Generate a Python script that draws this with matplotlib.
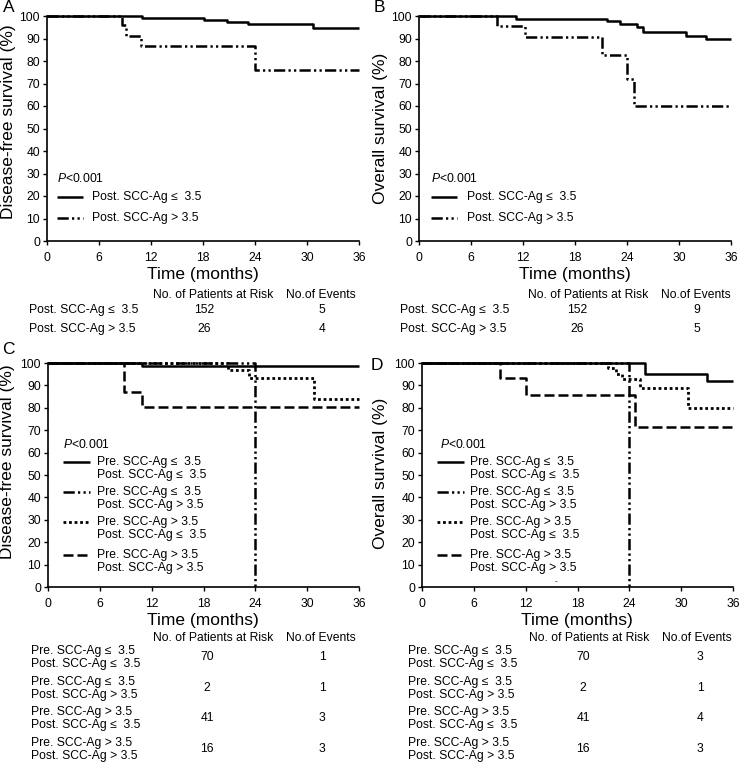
import matplotlib
matplotlib.use("Agg")
import matplotlib.pyplot as plt
from matplotlib.lines import Line2D

plt.rcParams['font.family'] = ['Liberation Sans', 'DejaVu Sans']
plt.rcParams['mathtext.fontset'] = 'custom'
plt.rcParams['mathtext.rm'] = 'Liberation Sans'
plt.rcParams['mathtext.it'] = 'Liberation Sans:italic'

# ---------------- data ----------------
x_ticks = [0, 6, 12, 18, 24, 30, 36]
y_ticks = [0, 10, 20, 30, 40, 50, 60, 70, 80, 90, 100]

# Panel A (disease-free survival)
a_low_t = [0, 11.0, 18.1, 20.8, 23.2, 30.7, 36]
a_low_s = [100, 99.3, 98.2, 97.2, 96.3, 94.6, 94.6]
a_high_t = [0, 8.7, 9.1, 10.9, 24.0, 36]
a_high_s = [100, 96.2, 91.3, 86.8, 76.0, 76.0]

# Panel B (overall survival)
b_low_t = [0, 11.2, 21.7, 23.2, 25.2, 25.8, 30.8, 33.1, 36]
b_low_s = [100, 98.6, 97.6, 96.5, 95.2, 93.1, 91.3, 89.6, 89.6]
b_high_t = [0, 9.0, 12.2, 21.1, 24.0, 24.8, 36]
b_high_s = [100, 95.5, 90.7, 82.5, 72.0, 60.0, 60.0]

# Panel C (disease-free survival, 4 groups)
c_g1_t = [0, 10.9, 36]
c_g1_s = [100, 98.6, 98.6]
c_g2_t = [0, 24.0]
c_g2_s = [100, 0]
c_g3_t = [0, 20.8, 23.3, 30.8, 36]
c_g3_s = [100, 97.0, 93.2, 83.8, 83.8]
c_g4_t = [0, 8.8, 10.9, 36]
c_g4_s = [100, 87.1, 80.4, 80.4]

# Panel D (overall survival, 4 groups)
d_g1_t = [0, 25.8, 33.0, 36]
d_g1_s = [100, 95.3, 92.0, 92.0]
d_g2_t = [0, 24.0]
d_g2_s = [100, 0]
d_g3_t = [0, 21.5, 22.4, 23.2, 25.2, 30.8, 36]
d_g3_s = [100, 97.6, 95.1, 93.0, 89.0, 80.0, 80.0]
d_g4_t = [0, 9.0, 12.0, 24.7, 36]
d_g4_s = [100, 93.5, 85.7, 71.4, 71.4]

two_groups = ["Post. SCC-Ag \u2264  3.5", "Post. SCC-Ag > 3.5"]
four_groups_pre = ["Pre. SCC-Ag \u2264  3.5", "Pre. SCC-Ag \u2264  3.5",
                   "Pre. SCC-Ag > 3.5", "Pre. SCC-Ag > 3.5"]
four_groups_post = ["Post. SCC-Ag \u2264  3.5", "Post. SCC-Ag > 3.5",
                    "Post. SCC-Ag \u2264  3.5", "Post. SCC-Ag > 3.5"]

a_risk = [152, 26]; a_events = [5, 4]
b_risk = [152, 26]; b_events = [9, 5]
c_risk = [70, 2, 41, 16]; c_events = [1, 1, 3, 3]
d_risk = [70, 2, 41, 16]; d_events = [3, 1, 4, 3]

# ---------------- styles ----------------
W, H = 740, 762
fig = plt.figure(figsize=(W / 100, H / 100), dpi=100)

LW = 1.8
STY_SOLID = dict(color='black', lw=LW, linestyle='-')
STY_DDOT = dict(color='black', lw=LW, linestyle=(0, (4.5, 1.3, 0.9, 1.3, 0.9, 1.3)))
STY_DOT = dict(color='black', lw=LW + 0.2, linestyle=(0, (1, 1)))
STY_DASH = dict(color='black', lw=LW, linestyle=(0, (4, 1.6)))

FS = 8.7


def ftext(x, y, s, **kw):
    kw.setdefault('fontsize', FS)
    kw.setdefault('va', 'center')
    return fig.text(x / W, 1 - y / H, s, **kw)


def make_ax(left, top, right, bottom):
    ax = fig.add_axes([left / W, 1 - bottom / H, (right - left) / W, (bottom - top) / H])
    ax.set_xlim(0, 36)
    ax.set_ylim(0, 100)
    ax.set_xticks(x_ticks)
    ax.set_yticks(y_ticks)
    for s in ['top', 'right']:
        ax.spines[s].set_visible(False)
    for s in ['left', 'bottom']:
        ax.spines[s].set_linewidth(1.2)
    ax.tick_params(axis='both', direction='out', length=3, width=1, labelsize=FS)
    ax.tick_params(axis='x', pad=5)
    ax.tick_params(axis='y', pad=2)
    ax.patch.set_visible(False)
    return ax


def step(ax, t, s, sty):
    ax.step(t, s, where='post', clip_on=False, solid_capstyle='butt',
            dash_capstyle='butt', **sty)


def legend_line(x0, x1, y, sty):
    l = Line2D([x0 / W, x1 / W], [1 - y / H, 1 - y / H], transform=fig.transFigure,
               solid_capstyle='butt', dash_capstyle='butt', **sty)
    fig.add_artist(l)


# ---------------- Panel A ----------------
axA = make_ax(47, 16, 359, 241)
step(axA, a_low_t, a_low_s, STY_SOLID)
step(axA, a_high_t, a_high_s, STY_DDOT)
ftext(9, 8, "A", fontsize=12.5, ha='center')
ftext(9, 122, "Disease-free survival (%)", fontsize=12.5, rotation=90, ha='center')
ftext(203, 275, "Time (months)", fontsize=12.5, ha='center')
ftext(57, 179, "$\\mathit{P}$<0.001", fontsize=FS)
legend_line(57, 83, 197, STY_SOLID)
ftext(92, 197, two_groups[0])
legend_line(57, 83, 218, STY_DDOT)
ftext(92, 218, two_groups[1])
ftext(213, 295, "No. of Patients at Risk", ha='center')
ftext(321, 295, "No.of Events", ha='center')
for i, yy in enumerate([310, 329]):
    ftext(29, yy, two_groups[i])
    ftext(204, yy, str(a_risk[i]), ha='center')
    ftext(322, yy, str(a_events[i]), ha='center')

# ---------------- Panel B ----------------
axB = make_ax(419, 16, 731, 241)
step(axB, b_low_t, b_low_s, STY_SOLID)
step(axB, b_high_t, b_high_s, STY_DDOT)
ftext(379, 8, "B", fontsize=12.5, ha='center')
ftext(380, 128, "Overall survival (%)", fontsize=12.5, rotation=90, ha='center')
ftext(575, 275, "Time (months)", fontsize=12.5, ha='center')
ftext(431, 179, "$\\mathit{P}$<0.001", fontsize=FS)
legend_line(431, 457, 197, STY_SOLID)
ftext(467, 197, two_groups[0])
legend_line(431, 457, 218, STY_DDOT)
ftext(467, 218, two_groups[1])
ftext(588, 295, "No. of Patients at Risk", ha='center')
ftext(696, 295, "No.of Events", ha='center')
for i, yy in enumerate([310, 329]):
    ftext(400, yy, two_groups[i])
    ftext(577, yy, str(b_risk[i]), ha='center')
    ftext(697, yy, str(b_events[i]), ha='center')

# ---------------- Panel C ----------------
axC = make_ax(48, 363, 359, 587)
step(axC, c_g1_t, c_g1_s, STY_SOLID)
step(axC, c_g2_t, c_g2_s, STY_DDOT)
step(axC, c_g3_t, c_g3_s, STY_DOT)
step(axC, c_g4_t, c_g4_s, STY_DASH)
ftext(8, 349, "C", fontsize=12.5, ha='center')
ftext(8, 462, "Disease-free survival (%)", fontsize=12.5, rotation=90, ha='center')
ftext(203, 620, "Time (months)", fontsize=12.5, ha='center')
ftext(63, 445, "$\\mathit{P}$<0.001", fontsize=FS)
stys = [STY_SOLID, STY_DDOT, STY_DOT, STY_DASH]
leg_y = [462, 492, 522, 555]
for i in range(4):
    legend_line(63, 90, leg_y[i], stys[i])
    ftext(97, leg_y[i], four_groups_pre[i])
    ftext(97, leg_y[i] + 13, four_groups_post[i])
ftext(213, 638, "No. of Patients at Risk", ha='center')
ftext(321, 638, "No.of Events", ha='center')
row_y = [657, 688, 718, 749]
for i, yy in enumerate(row_y):
    ftext(31, yy - 6, four_groups_pre[i])
    ftext(31, yy + 7, four_groups_post[i])
    ftext(207, yy, str(c_risk[i]), ha='center')
    ftext(322, yy, str(c_events[i]), ha='center')

# ---------------- Panel D ----------------
axD = make_ax(422, 363, 733, 587)
step(axD, d_g1_t, d_g1_s, STY_SOLID)
step(axD, d_g2_t, d_g2_s, STY_DDOT)
step(axD, d_g3_t, d_g3_s, STY_DOT)
step(axD, d_g4_t, d_g4_s, STY_DASH)
ftext(377, 365, "D", fontsize=12.5, ha='center')
ftext(380, 473, "Overall survival (%)", fontsize=12.5, rotation=90, ha='center')
ftext(577, 620, "Time (months)", fontsize=12.5, ha='center')
ftext(440, 445, "$\\mathit{P}$<0.001", fontsize=FS)
for i in range(4):
    legend_line(437, 464, leg_y[i], stys[i])
    ftext(470, leg_y[i], four_groups_pre[i])
    ftext(470, leg_y[i] + 13, four_groups_post[i])
ftext(556, 582, "-", fontsize=6, ha='center')
ftext(589, 638, "No. of Patients at Risk", ha='center')
ftext(697, 638, "No.of Events", ha='center')
for i, yy in enumerate(row_y):
    ftext(408, yy - 6, four_groups_pre[i])
    ftext(408, yy + 7, four_groups_post[i])
    ftext(583, yy, str(d_risk[i]), ha='center')
    ftext(700, yy, str(d_events[i]), ha='center')

fig.savefig("out.png", dpi=100)
